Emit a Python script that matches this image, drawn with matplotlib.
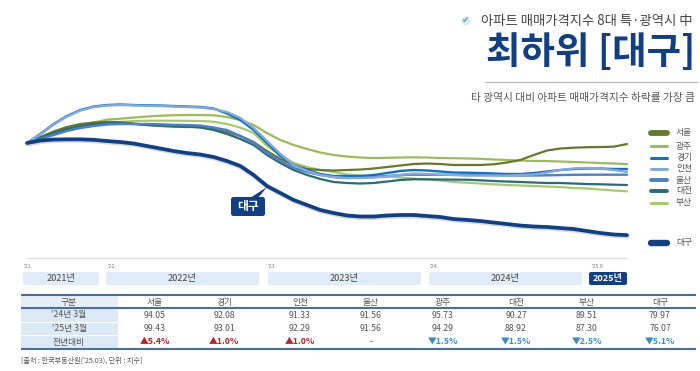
import matplotlib
matplotlib.use("Agg")
import matplotlib.pyplot as plt
import matplotlib.patheffects as pe
from matplotlib.patches import FancyBboxPatch, Rectangle, Polygon, Circle

FONT = ['Noto Sans CJK KR', 'DejaVu Sans']
plt.rcParams['font.family'] = FONT

months = list(range(46))  # 2021-06 ... 2025-03

seoul = [99.69,101.22,102.64,103.79,104.56,104.94,105.07,105.07,104.69,104.30,104.05,103.87,103.79,103.79,103.28,102.51,101.48,99.94,97.64,95.58,94.05,93.02,92.76,92.64,92.76,92.89,93.15,93.53,93.92,94.30,94.43,94.30,94.05,94.05,94.05,94.23,94.69,95.33,96.61,97.76,98.28,98.48,98.61,98.66,98.74,99.43]
gwangju = [99.69,100.97,102.25,103.40,104.30,104.94,105.66,105.92,106.22,106.48,106.69,106.81,106.87,106.87,106.79,106.35,105.58,104.30,102.25,100.46,99.17,98.15,97.25,96.61,96.22,95.97,95.84,95.89,95.97,96.02,95.97,95.84,95.79,95.73,95.64,95.46,95.33,95.20,95.07,95.07,94.94,94.81,94.69,94.56,94.43,94.29]
gyeonggi = [99.69,101.99,104.56,106.61,108.15,109.05,109.43,109.56,109.43,109.35,109.30,109.17,109.05,108.92,108.53,107.25,105.58,103.02,99.69,96.35,94.05,92.76,91.74,91.23,91.23,91.23,91.48,91.99,92.51,92.76,92.64,92.38,92.12,92.08,91.99,91.87,91.74,91.74,91.99,92.38,92.76,93.02,93.15,93.15,93.02,93.01]
incheon = [99.69,101.87,104.43,106.48,108.02,108.92,109.30,109.43,109.35,109.22,109.17,109.05,108.92,108.79,108.40,107.63,106.10,103.53,100.20,96.87,94.05,92.51,91.48,90.97,90.71,90.71,90.84,91.10,91.48,91.87,91.74,91.61,91.48,91.33,91.35,91.35,91.35,91.48,91.61,92.12,92.76,93.15,93.28,93.15,92.76,92.29]
ulsan = [99.69,100.71,101.74,102.76,103.53,104.05,104.43,104.56,104.56,104.56,104.48,104.35,104.30,104.17,103.66,103.02,101.48,99.69,97.12,95.07,93.28,92.25,91.48,90.97,90.71,90.84,90.97,91.23,91.48,91.56,91.53,91.53,91.53,91.56,91.48,91.43,91.38,91.35,91.35,91.40,91.48,91.53,91.56,91.56,91.56,91.56]
daejeon = [99.69,100.97,102.25,103.28,104.05,104.56,104.81,104.69,104.56,104.30,104.17,104.05,103.92,103.66,103.02,101.99,100.71,99.17,96.61,94.56,92.76,91.48,90.46,89.69,89.43,89.30,89.43,89.81,90.20,90.38,90.38,90.33,90.30,90.27,90.12,89.94,89.81,89.69,89.56,89.43,89.43,89.30,89.17,89.10,89.00,88.92]
busan = [99.69,100.71,101.99,103.02,103.79,104.30,104.69,105.07,105.33,105.40,105.40,105.40,105.38,105.33,105.15,104.56,103.66,102.25,98.92,96.61,94.56,93.53,92.76,92.25,91.61,91.35,91.10,91.10,90.84,90.58,90.33,90.07,89.69,89.51,89.30,89.10,88.92,88.79,88.66,88.53,88.40,88.15,88.02,87.76,87.51,87.30]
daegu = [99.69,100.33,100.58,100.64,100.64,100.51,100.20,99.94,99.56,98.92,98.28,97.64,97.12,96.74,96.10,95.07,93.79,91.48,88.66,86.87,85.07,83.79,82.51,81.74,81.10,80.84,80.84,81.10,81.23,81.23,80.97,80.71,80.20,79.97,79.69,79.30,78.92,78.53,78.28,78.15,77.89,77.64,77.12,76.61,76.23,76.07]

series_names = ['서울', '광주', '경기', '인천', '울산', '대전', '부산', '대구']
year_labels = ['2021년', '2022년', '2023년', '2024년', '2025년']
tick_labels = ["'21.", "'22.", "'23.", "'24.", "'25.0"]
table_cols = ['구분', '서울', '경기', '인천', '울산', '광주', '대전', '부산', '대구']
row_2024 = ["'24년 3월", '94.05', '92.08', '91.33', '91.56', '95.73', '90.27', '89.51', '79.97']
row_2025 = ["'25년 3월", '99.43', '93.01', '92.29', '91.56', '94.29', '88.92', '87.30', '76.07']
row_yoy = ['전년대비', '▲5.4%', '▲1.0%', '▲1.0%', '-', '▼1.5%', '▼1.5%', '▼2.5%', '▼5.1%']

W, H = 700, 371
fig = plt.figure(figsize=(W/100, H/100), dpi=100, facecolor='white')

NAVY = '#123f82'
colors = {'서울': '#66792f', '광주': '#9dbb5c', '경기': '#0f72bd', '인천': '#86a8d6',
          '울산': '#4f7fc4', '대전': '#2b6b78', '부산': '#a8c873', '대구': NAVY}
widths = {'서울': 1.6, '광주': 1.6, '경기': 1.7, '인천': 1.7, '울산': 1.7, '대전': 1.6, '부산': 1.6, '대구': 2.7}
data = {'서울': seoul, '광주': gwangju, '경기': gyeonggi, '인천': incheon,
        '울산': ulsan, '대전': daejeon, '부산': busan, '대구': daegu}

# chart axes: x 27..627 px, y 95..258 px
ax = fig.add_axes([27/W, 1-258/H, 600/W, 163/H])
ax.set_xlim(0, 45)
ax.set_ylim(70.2, 112.0)
for k in ['top', 'left', 'right']:
    ax.spines[k].set_visible(False)
ax.spines['bottom'].set_color('#dddddd')
ax.spines['bottom'].set_linewidth(0.8)
ax.set_xticks([])
ax.set_yticks([])
ax.patch.set_alpha(0)
for name in ['부산', '광주', '서울', '대전', '울산', '경기', '인천', '대구']:
    ln, = ax.plot(months, data[name], color=colors[name], lw=widths[name],
                  solid_capstyle='round', solid_joinstyle='round', clip_on=False)
    if name == '대구':
        ln.set_path_effects([pe.SimpleLineShadow(offset=(0.5, -1.2), shadow_color='#aaaaaa', alpha=0.45), pe.Normal()])

# overlay in pixel coordinates for the furniture
ov = fig.add_axes([0, 0, 1, 1], facecolor='none')
ov.set_xlim(0, W)
ov.set_ylim(H, 0)
ov.axis('off')

GREY = '#555555'
# header
ov.add_patch(Circle((466, 21), 4.5, color='#dce9f0', lw=0))
ov.text(466, 21, '✔', color='#5f9cbc', fontsize=6.5, ha='center', va='center', family='DejaVu Sans')
ov.text(693, 21, '아파트 매매가격지수 8대 특·광역시 中', fontsize=9.6, color='#444444', ha='right', va='center')
ov.text(695, 53, '최하위 [대구]', fontsize=27, fontweight='black', color=NAVY, ha='right', va='center')
ov.plot([485, 697], [82, 82], color='#bbbbbb', lw=0.9)
ov.text(695, 98, '타 광역시 대비 아파트 매매가격지수 하락률 가장 큼', fontsize=7.7, color='#555555', ha='right', va='center')

# legend
leg_y = [133, 146, 157.5, 169, 180, 191, 202.5, 243]
leg_lw = [4.2, 2.2, 2.2, 2.2, 2.8, 2.8, 2.2, 4.6]
for name, y, lw in zip(series_names, leg_y, leg_lw):
    ov.plot([651, 667], [y, y], color=colors[name], lw=lw, solid_capstyle='round')
    ov.text(676, y, name, fontsize=6.3, color=GREY, va='center', ha='left')

# callout
ov.add_patch(Polygon([[250, 198], [258, 198], [267, 187]], closed=True, color=NAVY, lw=0))
ov.add_patch(FancyBboxPatch((231, 197), 34, 19, boxstyle='round,pad=0,rounding_size=2.5', color=NAVY, lw=0))
ov.text(248, 206.5, '대구', color='white', fontsize=8.5, fontweight='bold', ha='center', va='center')

# year bands
bands = [(23, 99), (106, 259), (268, 421), (429, 582), (589, 627)]
tick_x = [24, 107, 268, 429, 592]
for i, ((x0, x1), lab, tl, tx) in enumerate(zip(bands, year_labels, tick_labels, tick_x)):
    last = i == len(bands) - 1
    ov.add_patch(FancyBboxPatch((x0, 272), x1-x0, 13, boxstyle='round,pad=0,rounding_size=2',
                                color=NAVY if last else '#e1ecf8', lw=0))
    ov.text((x0+x1)/2, 278.5, lab, fontsize=6.6, ha='center', va='center',
            color='white' if last else '#444444', fontweight='bold' if last else 'normal')
    ov.text(tx, 266, tl, fontsize=3.8, color='#777777', ha='left', va='center')

# table
col_x = [69, 155, 224, 300, 371, 443, 516, 587, 660]
row_y = [302, 315, 328.5, 342]
ov.add_patch(Rectangle((21, 308), 97, 41, color='#dce9f6', lw=0))
ov.add_patch(Rectangle((21, 295), 97, 13, color='#e6eff8', lw=0))
for y in (321.7, 335):
    ov.plot([21, 118], [y, y], color='white', lw=0.8)
for y, lw in [(295, 1.5), (308, 1.5), (349, 1.5)]:
    ov.plot([21, 696], [y, y], color='#4a6f9f', lw=lw, solid_capstyle='butt')
for x, head, a, b, c in zip(col_x, table_cols, row_2024, row_2025, row_yoy):
    ov.text(x, row_y[0], head, fontsize=6.3, color=GREY, ha='center', va='center')
    ov.text(x, row_y[1], a, fontsize=6.3, color=GREY, ha='center', va='center')
    ov.text(x, row_y[2], b, fontsize=6.3, color=GREY, ha='center', va='center')
    col = '#c0202a' if c.startswith('▲') else ('#3a8cc6' if c.startswith('▼') else GREY)
    ov.text(x, row_y[3], c, fontsize=6.3, color=col, ha='center', va='center',
            fontweight='bold' if c != '-' and x != col_x[0] else 'normal')
ov.text(21, 361, "[출처 : 한국부동산원('25.03), 단위 : 지수]", fontsize=5.1, color='#555555', ha='left', va='center')

fig.savefig('out.png', dpi=100)
